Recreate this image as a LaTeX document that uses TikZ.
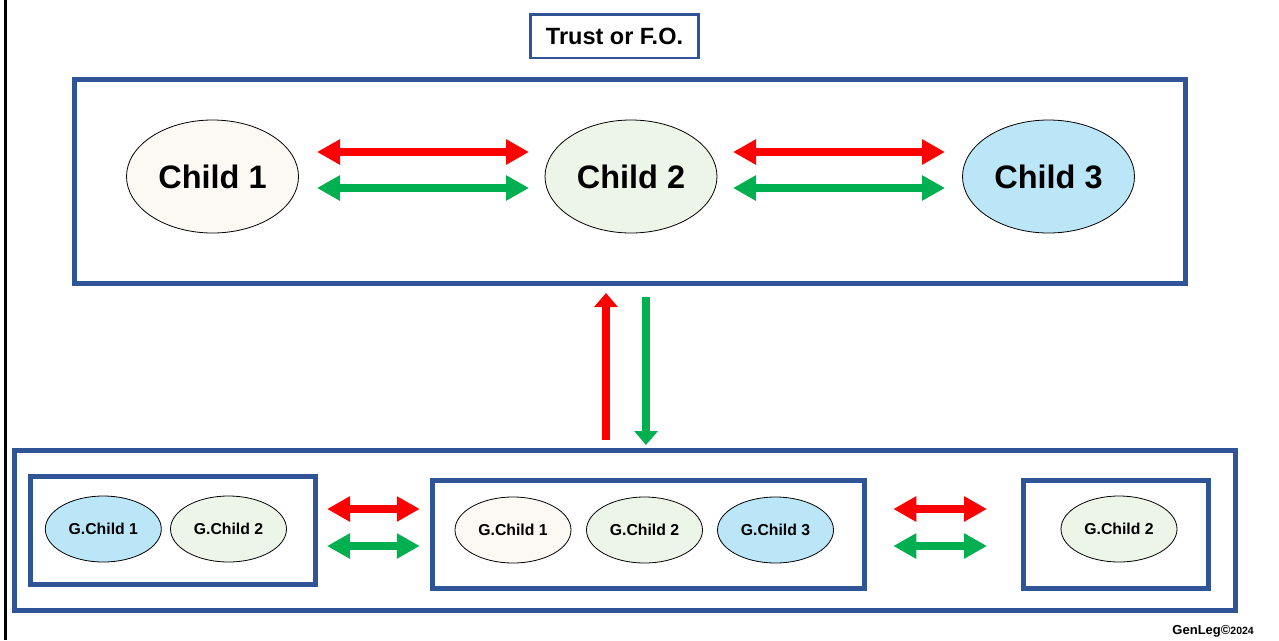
\documentclass[tikz,border=0pt]{standalone}
\usepackage{fontspec}
\setmainfont{Liberation Sans}
\usetikzlibrary{arrows.meta,shapes.geometric}
\definecolor{frameblue}{RGB}{47,85,151}
\definecolor{cream}{RGB}{252,248,244}
\definecolor{palegreen}{RGB}{237,245,232}
\definecolor{paleblue}{RGB}{187,230,248}
\definecolor{arrred}{RGB}{255,0,0}
\definecolor{arrgreen}{RGB}{0,176,80}
\tikzset{
  frame/.style={draw=frameblue,line width=5pt,inner sep=0pt,outer sep=0pt},
  child/.style={ellipse,draw=black,line width=0.8pt,inner sep=0pt,outer sep=0pt,
    minimum width=172pt,minimum height=113pt,font=\fontsize{32.5}{36}\selectfont\bfseries},
  gchild/.style={ellipse,draw=black,line width=0.8pt,inner sep=0pt,outer sep=0pt,
    minimum width=116pt,minimum height=66pt,font=\fontsize{15.8}{18}\selectfont\bfseries},
  twotip/.style={line width=8pt,{Triangle[width=24pt,length=23pt]}-{Triangle[width=24pt,length=23pt]}},
  onetip/.style={line width=8pt,-{Triangle[width=23pt,length=14pt]}}
}
\begin{document}
\begin{tikzpicture}[x=1pt,y=-1pt]
\useasboundingbox (0,0) rectangle (1279,640);
\fill[white] (0,0) rectangle (1279,640);
% left rule
\draw[black,line width=2.5pt] (5.3,0) -- (5.3,640);

% title
\node[frame,line width=2.5pt,minimum width=168pt,minimum height=43.5pt,
  font=\fontsize{23.5}{26}\selectfont\bfseries] (trust) at (614.5,36) {Trust or F.O.};

% upper generation
\node[frame,minimum width=1111pt,minimum height=204pt] (top) at (630,181.5) {};
\node[child,fill=cream] (c1) at (212.5,176.5) {Child 1};
\node[child,fill=palegreen] (c2) at (631,176.5) {Child 2};
\node[child,fill=paleblue] (c3) at (1048.5,176.5) {Child 3};

\draw[twotip,arrred,shorten <=18.5pt,shorten >=16pt]
  ([yshift=24.5pt]c1.east) -- ([yshift=24.5pt]c2.west);
\draw[twotip,arrgreen,shorten <=18.5pt,shorten >=16pt]
  ([yshift=-11.5pt]c1.east) -- ([yshift=-11.5pt]c2.west);
\draw[twotip,arrred,shorten <=16pt,shorten >=17.5pt]
  ([yshift=24.5pt]c2.east) -- ([yshift=24.5pt]c3.west);
\draw[twotip,arrgreen,shorten <=16pt,shorten >=17.5pt]
  ([yshift=-11.5pt]c2.east) -- ([yshift=-11.5pt]c3.west);

% lower generation
\node[frame,minimum width=1220.5pt,minimum height=160pt] (bot) at (624.75,530.5) {};
\node[frame,minimum width=285.5pt,minimum height=108pt] (b1) at (172.75,530.5) {};
\node[frame,minimum width=431.5pt,minimum height=107.5pt] (b2) at (648.5,534.5) {};
\node[frame,minimum width=185pt,minimum height=108pt] (b3) at (1116,534.5) {};

\node[gchild,fill=paleblue] (g11) at (103.3,529) {G.Child 1};
\node[gchild,fill=palegreen] (g12) at (228.5,529) {G.Child 2};
\node[gchild,fill=cream] (g21) at (513,530) {G.Child 1};
\node[gchild,fill=palegreen] (g22) at (644.5,530) {G.Child 2};
\node[gchild,fill=paleblue] (g23) at (775.5,530) {G.Child 3};
\node[gchild,fill=palegreen] (g32) at (1119,529) {G.Child 2};

\draw[twotip,arrred,shorten <=11.5pt,shorten >=13pt]
  ([yshift=21.5pt]b1.east) -- ([yshift=21.5pt]b1.east -| b2.west);
\draw[twotip,arrgreen,shorten <=11.5pt,shorten >=13pt]
  ([yshift=-15.5pt]b1.east) -- ([yshift=-15.5pt]b1.east -| b2.west);
\draw[twotip,arrred,shorten <=29pt,shorten >=36.5pt]
  ([yshift=25.5pt]b2.east) -- ([yshift=25.5pt]b2.east -| b3.west);
\draw[twotip,arrgreen,shorten <=29pt,shorten >=36.5pt]
  ([yshift=-11.5pt]b2.east) -- ([yshift=-11.5pt]b2.east -| b3.west);

% links between the generations
\draw[onetip,arrred,shorten <=10.5pt,shorten >=9.5pt]
  ([xshift=-24pt]top.south |- bot.north) -- ([xshift=-24pt]top.south);
\draw[onetip,arrgreen,shorten <=13.5pt,shorten >=5.5pt]
  ([xshift=16pt]top.south) -- ([xshift=16pt]top.south |- bot.north);

% signature
\node[anchor=base east,inner sep=0pt,font=\fontsize{13}{15}\selectfont\bfseries] (sig)
  at (1254,634.5) {GenLeg©{\fontsize{10.5}{12}\selectfont 2024}};
\end{tikzpicture}
\end{document}
